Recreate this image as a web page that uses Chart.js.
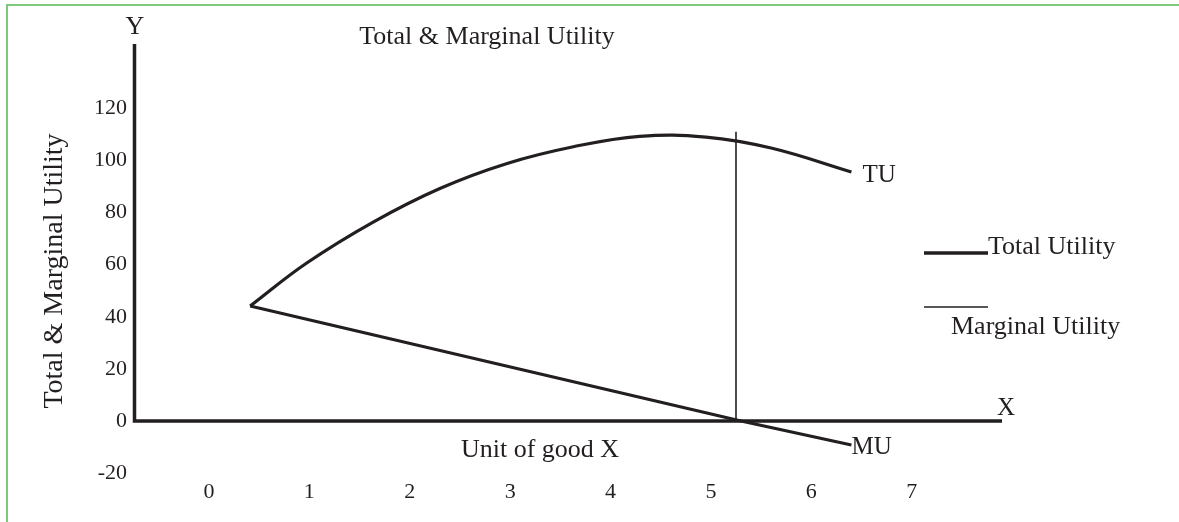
<!DOCTYPE html>
<html>
<head>
<meta charset="utf-8">
<title>Total & Marginal Utility</title>
<script src="https://cdn.jsdelivr.net/npm/chart.js@4.4.1/dist/chart.umd.min.js"></script>
<style>
  html, body { margin: 0; padding: 0; background: #fff; }
  #wrap { position: relative; width: 1179px; height: 522px; overflow: hidden; }
  #frame { position: absolute; left: 6px; top: 4px; right: 0; bottom: 0; border-top: 2px solid #7cc97c; border-left: 2px solid #7cc97c; }
  #chart { position: absolute; left: 0; top: 0; }
</style>
</head>
<body>
<div id="wrap">
  <div id="frame"></div>
  <canvas id="chart" width="1179" height="522"></canvas>
</div>
<script>
// valores
const xTicks = [0, 1, 2, 3, 4, 5, 6, 7];
const yTicks = [-20, 0, 20, 40, 60, 80, 100, 120];

const tuX = [0.41, 0.97, 1.64, 2.30, 2.97, 3.63, 4.29, 4.95, 5.60, 6.40];
const tuY = [44.1, 60.5, 76.4, 89.2, 98.8, 105.2, 109.2, 108.9, 104.7, 95.5];

const muX = [0.41, 5.30, 6.40];
const muY = [44.1, 0, -9.2];

const maxLineX = [5.25, 5.25];
const maxLineY = [0, 110.9];

const ink = '#231f20';
const serif = '"Liberation Serif", "Times New Roman", serif';

const pontos = (xs, ys) => xs.map((x, i) => ({ x: x, y: ys[i] }));

// eixos e textos desenhados por cima do gráfico
const anotacoes = {
    id: 'anotacoes',
    beforeDatasetsDraw(chart) {
        const { ctx, chartArea: a, scales: { y } } = chart;
        const y0 = y.getPixelForValue(0);
        ctx.save();
        ctx.strokeStyle = ink;
        ctx.lineWidth = 3.5;
        ctx.lineCap = 'butt';
        ctx.beginPath();
        ctx.moveTo(a.left + 1.5, a.top);
        ctx.lineTo(a.left + 1.5, y0);
        ctx.lineTo(a.right, y0);
        ctx.stroke();
        ctx.restore();
    },
    afterDraw(chart) {
        const { ctx, chartArea: a, scales: { y } } = chart;
        const y0 = y.getPixelForValue(0);
        const tuEnd = chart.getDatasetMeta(0).data.at(-1);
        const muEnd = chart.getDatasetMeta(1).data.at(-1);

        ctx.save();
        ctx.fillStyle = ink;
        ctx.textBaseline = 'middle';

        ctx.font = '26px ' + serif;
        ctx.textAlign = 'center';
        ctx.fillText('Total & Marginal Utility', 487, 37);
        ctx.fillText('Y', a.left + 2, a.top - 17);
        ctx.fillText('Unit of good X', 540, y0 + 29);

        ctx.textAlign = 'left';
        ctx.font = '25px ' + serif;
        ctx.fillText('X', a.right - 5, y0 - 13);
        ctx.fillText('TU', tuEnd.x + 11, tuEnd.y + 3);
        ctx.fillText('MU', muEnd.x, muEnd.y + 2);

        // legenda
        ctx.strokeStyle = ink;
        ctx.lineWidth = 3.5;
        ctx.beginPath();
        ctx.moveTo(924, 253);
        ctx.lineTo(988, 253);
        ctx.stroke();
        ctx.lineWidth = 1.5;
        ctx.beginPath();
        ctx.moveTo(924, 307);
        ctx.lineTo(988, 307);
        ctx.stroke();
        ctx.font = '26px ' + serif;
        ctx.fillText('Total Utility', 988, 247);
        ctx.fillText('Marginal Utility', 951, 327);

        // título do eixo Y
        ctx.translate(55, 271);
        ctx.rotate(-Math.PI / 2);
        ctx.textAlign = 'center';
        ctx.font = '28px ' + serif;
        ctx.fillText('Total & Marginal Utility', 0, 0);
        ctx.restore();
    }
};

new Chart(document.getElementById('chart'), {
    type: 'line',
    data: {
        datasets: [
            {
                label: 'Total Utility',
                data: pontos(tuX, tuY),
                borderColor: ink,
                borderWidth: 3.2,
                pointRadius: 0,
                tension: 0.4,
                fill: false
            },
            {
                label: 'Marginal Utility',
                data: pontos(muX, muY),
                borderColor: ink,
                borderWidth: 3.2,
                pointRadius: 0,
                tension: 0,
                fill: false
            },
            {
                label: 'max',
                data: pontos(maxLineX, maxLineY),
                borderColor: ink,
                borderWidth: 1.6,
                pointRadius: 0,
                tension: 0,
                fill: false
            }
        ]
    },
    options: {
        responsive: false,
        animation: false,
        layout: { padding: { top: 44, right: 177, left: 0, bottom: 0 } },
        plugins: {
            legend: { display: false },
            title: { display: false },
            tooltip: { enabled: false }
        },
        scales: {
            x: {
                type: 'linear',
                min: -0.757,
                max: 7.9,
                afterBuildTicks: s => { s.ticks = xTicks.map(v => ({ value: v })); },
                afterFit: s => { s.height = 48.8; },
                grid: { display: false, drawTicks: false },
                border: { display: false },
                ticks: { color: ink, font: { family: serif, size: 22 }, padding: 6, autoSkip: false, maxRotation: 0 }
            },
            y: {
                type: 'linear',
                min: -20,
                max: 144.6,
                afterBuildTicks: s => { s.ticks = yTicks.map(v => ({ value: v })); },
                afterFit: s => { s.width = 133; },
                grid: { display: false, drawTicks: false },
                border: { display: false },
                ticks: { color: ink, font: { family: serif, size: 22 }, padding: 6 }
            }
        }
    },
    plugins: [anotacoes]
});
</script>
</body>
</html>
